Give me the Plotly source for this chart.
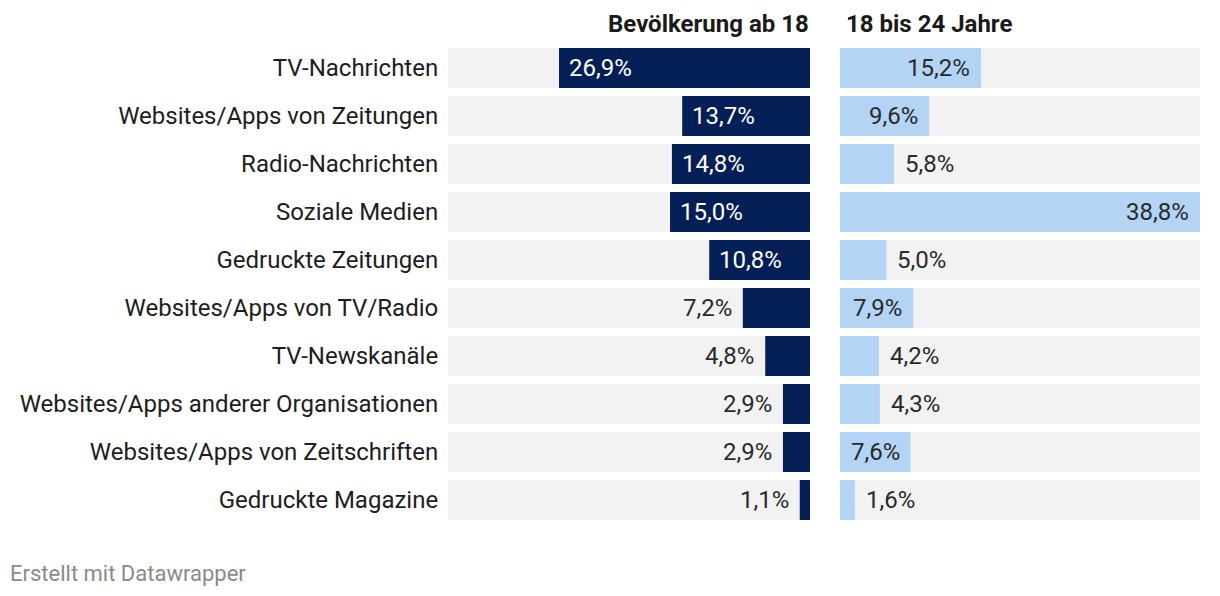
import plotly.graph_objects as go

categories = ["TV-Nachrichten", "Websites/Apps von Zeitungen", "Radio-Nachrichten",
              "Soziale Medien", "Gedruckte Zeitungen", "Websites/Apps von TV/Radio",
              "TV-Newskanäle", "Websites/Apps anderer Organisationen",
              "Websites/Apps von Zeitschriften", "Gedruckte Magazine"]
adults = [26.9, 13.7, 14.8, 15.0, 10.8, 7.2, 4.8, 2.9, 2.9, 1.1]
young = [15.2, 9.6, 5.8, 38.8, 5.0, 7.9, 4.2, 4.3, 7.6, 1.6]
titles = ["Bevölkerung ab 18", "18 bis 24 Jahre"]

W, H = 1220, 596
FONT = "Roboto"
FS = 24
DARK = "#041e56"
LIGHT = "#b3d4f5"
BG = "#f2f2f2"
TXT = "#2a2a2a"
LBL = "#1d1d1d"
axis_max = max(max(adults), max(young))
bg_vals = [axis_max] * len(categories)

def fmt(v):
    return f"{v:.1f}".replace(".", ",") + "%"

fig = go.Figure()
for xa in ["x", "x2"]:
    fig.add_trace(go.Bar(y=categories, x=bg_vals, orientation="h", marker_color=BG,
                         marker_line_width=0, xaxis=xa, yaxis="y", hoverinfo="skip",
                         showlegend=False))
fig.add_trace(go.Bar(y=categories, x=adults, orientation="h", marker_color=DARK,
                     marker_line_width=0, xaxis="x", yaxis="y", showlegend=False))
fig.add_trace(go.Bar(y=categories, x=young, orientation="h", marker_color=LIGHT,
                     marker_line_width=0, xaxis="x2", yaxis="y", showlegend=False))

ann = []
THR = 7.5
for c, v in zip(categories, adults):
    inside = v >= THR
    ann.append(dict(x=v, y=c, xref="x", yref="y", text=fmt(v), showarrow=False,
                    xanchor="left" if inside else "right", xshift=8 if inside else -9,
                    font=dict(family=FONT, size=FS, color="white" if inside else TXT)))
for c, v in zip(categories, young):
    inside = v >= THR
    ann.append(dict(x=v, y=c, xref="x2", yref="y", text=fmt(v), showarrow=False,
                    xanchor="right" if inside else "left", xshift=-9 if inside else 9,
                    font=dict(family=FONT, size=FS, color=TXT)))

ann.append(dict(x=810 / W, y=1 - 24 / H, xref="paper", yref="paper",
                text="<b>" + titles[0] + "</b>", showarrow=False, xanchor="right",
                yanchor="middle", xshift=1,
                font=dict(family=FONT, size=FS, color="#1a1a1a")))
ann.append(dict(x=840 / W, y=1 - 24 / H, xref="paper", yref="paper",
                text="<b>" + titles[1] + "</b>", showarrow=False, xanchor="left",
                yanchor="middle", xshift=4,
                font=dict(family=FONT, size=FS, color="#1a1a1a")))
ann.append(dict(x=8 / W, y=1 - 573 / H, xref="paper", yref="paper",
                text="Erstellt mit Datawrapper", showarrow=False, xanchor="left",
                yanchor="middle", font=dict(family=FONT, size=22, color="#8a8a8a")))

fig.update_layout(
    width=W, height=H, margin=dict(l=0, r=0, t=0, b=0),
    paper_bgcolor="white", plot_bgcolor="white",
    barmode="overlay", bargap=8 / 48,
    font=dict(family=FONT, size=FS, color=TXT),
    annotations=ann,
    xaxis=dict(domain=[448 / W, 810 / W], range=[axis_max, 0], visible=False,
               fixedrange=True),
    xaxis2=dict(domain=[840 / W, 1200 / W], range=[0, axis_max], visible=False,
                anchor="y", fixedrange=True),
    yaxis=dict(domain=[1 - 524 / H, 1 - 44 / H], categoryorder="array",
               categoryarray=categories, range=[len(categories) - 0.5, -0.5],
               showgrid=False, zeroline=False, showline=False, ticks="outside",
               ticklen=4, tickcolor="rgba(0,0,0,0)",
               tickfont=dict(family=FONT, size=FS, color=LBL), fixedrange=True),
)

fig.write_html("out.html", config={"displayModeBar": False})
